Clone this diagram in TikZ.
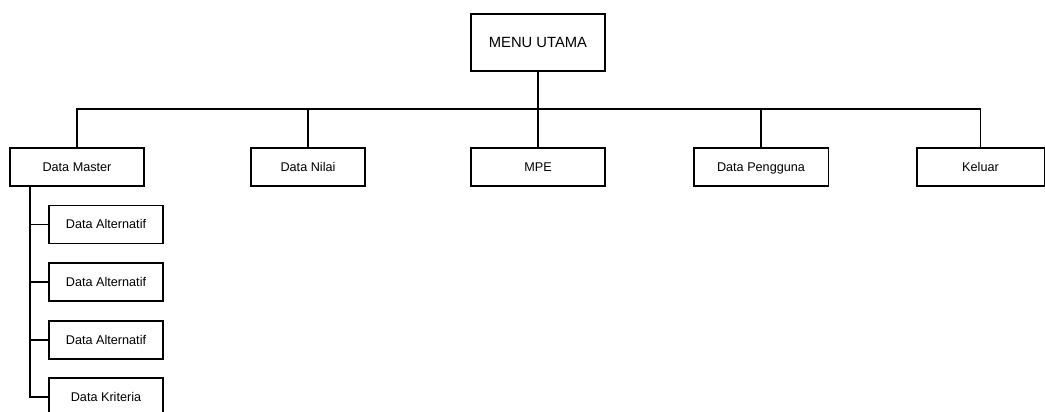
\documentclass[tikz,border=0pt]{standalone}
\usepackage{fontspec}
\setmainfont{Liberation Sans}
\usetikzlibrary{positioning}

\begin{document}
\begin{tikzpicture}[x=0.025cm,y=-0.025cm,line width=0.75pt,
  box/.style={draw,inner sep=0pt,minimum height=0.95cm,text height=1.6ex,text depth=0.4ex,
    font=\fontsize{9}{11}\selectfont},
  widebox/.style={box,minimum width=3.35cm},
  smallbox/.style={box,minimum width=2.85cm}]
  \useasboundingbox (0,0) rectangle (1045,412);
  \node[draw,inner sep=0pt,minimum width=3.35cm,minimum height=1.425cm,
        font=\fontsize{10.5}{12}\selectfont] (menu) at (538,42.5) {MENU UTAMA};
  \node[widebox] (master) at (77,167) {Data Master};
  \node[smallbox] (nilai) at (308,167) {Data Nilai};
  \node[widebox] (mpe) at (538,167) {MPE};
  \node[widebox] (pengguna) at (761,167) {Data Pengguna};
  \node[box,minimum width=3.175cm] (keluar) at (980.5,167) {Keluar};
  \node[smallbox] (alt1) at (106,224.5) {Data Alternatif};
  \node[smallbox] (alt2) at (106,282) {Data Alternatif};
  \node[smallbox] (alt3) at (106,340) {Data Alternatif};
  \node[smallbox] (kriteria) at (106,397) {Data Kriteria};
  \coordinate (bus) at (538,109);
  \coordinate (trunk) at (30,186);
  \draw (menu) -- (bus);
  \draw (master.north) |- (bus) -| (keluar.north);
  \foreach \n in {nilai,mpe,pengguna}
    \draw (bus -| \n.north) -- (\n.north);
  \draw (trunk) |- (kriteria.west);
  \foreach \n in {alt1,alt2,alt3}
    \draw (trunk |- \n.west) -- (\n.west);
\end{tikzpicture}
\end{document}
